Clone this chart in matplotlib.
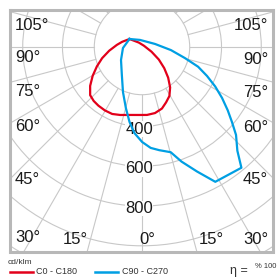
import numpy as np
import matplotlib
matplotlib.use("agg")
import matplotlib.pyplot as plt
from matplotlib.patches import Circle
from matplotlib.lines import Line2D

plt.rcParams['font.family'] = ['Liberation Sans', 'DejaVu Sans']

# C0 - C180 (red), gamma from nadir in degrees, cd/klm
red_gamma = [0, 7, 13, 19, 25, 30, 35, 40, 45, 50, 55, 60, 65, 69, 72]
red_c0 = [382, 385, 392, 394, 386, 368, 350, 318, 275, 228, 180, 128, 80, 50, 0]
red_c180 = [382, 385, 387, 380, 370, 360, 345, 308, 262, 214, 168, 118, 70, 40, 0]

# C90 - C270 (blue), signed gamma (negative = C270 side)
blue_gamma = [-40, -36, -22, -12, -7, -3, 0, 3, 7, 11, 15, 20, 23, 27, 31,
              41, 44, 48, 51, 54, 57.5, 61, 64.5, 68, 71, 75, 79, 85, 90]
blue_cd = [0, 56, 114, 185, 269, 348, 417, 474, 522, 558, 579, 606, 670, 748, 838,
           858, 781, 721, 663, 611, 552, 493, 432, 372, 295, 216, 131, 53, 0]

ring_values = [240, 400, 600, 800, 1000, 1200]
ring_labels = [400, 600, 800]
spoke_angles = np.arange(0, 360, 15)

RED = '#e2001a'
BLUE = '#009fe3'
GRID = '#c8c8c8'

W, H = 278, 280
k = 5.03  # cd/klm per pixel
ox, oy = 129.5, 39.0  # curve origin (px)
gx, gy = (142 - ox) * k, -(47 - oy) * k  # grid centre in data units

fig = plt.figure(figsize=(W / 100, H / 100), dpi=100)
x0, x1, y0, y1 = 9.5, 272.5, 9.5, 251.5
ax = fig.add_axes([x0 / W, 1 - y1 / H, (x1 - x0) / W, (y1 - y0) / H])
ax.set_xlim((x0 - ox) * k, (x1 - ox) * k)
ax.set_ylim(-(y1 - oy) * k, (oy - y0) * k)
ax.set_xticks([])
ax.set_yticks([])
for s in ax.spines.values():
    s.set_color('#b8b8b8')
    s.set_linewidth(2.2)

# grid
for r in ring_values:
    ax.add_patch(Circle((gx, gy), r, fill=False, ec=GRID, lw=0.8, zorder=1))
r0 = ring_values[0]
for a in np.radians(spoke_angles):
    ax.plot([gx + r0 * np.sin(a), gx + 2000 * np.sin(a)],
            [gy - r0 * np.cos(a), gy - 2000 * np.cos(a)], color=GRID, lw=0.8, zorder=1)

for v in ring_labels:
    ax.annotate(str(v), (gx, gy - v), xytext=(-3, -2.5), textcoords='offset pixels',
                ha='center', va='center', fontsize=12, color='#1a1a1a', zorder=3,
                bbox=dict(fc='white', ec='none', pad=0.3))

# curves
g = np.radians(np.concatenate([-np.array(red_gamma[::-1]), np.array(red_gamma[1:])]))
I = np.concatenate([np.array(red_c180[::-1]), np.array(red_c0[1:])])
ax.plot(I * np.sin(g), -I * np.cos(g), color=RED, lw=1.6, zorder=4)

g = np.radians(np.array(blue_gamma))
I = np.array(blue_cd)
ax.plot(I * np.sin(g), -I * np.cos(g), color=BLUE, lw=1.6, zorder=4)

# angle labels
left = [('105°', 25), ('90°', 58), ('75°', 92), ('60°', 127), ('45°', 180), ('30°', 238)]
right = [('105°', 26), ('90°', 59), ('75°', 93), ('60°', 128), ('45°', 179), ('30°', 239)]
for t, y in left:
    fig.text(15 / W, 1 - y / H, t, ha='left', va='center', fontsize=12, color='#1a1a1a')
for t, y in right:
    fig.text(268 / W, 1 - y / H, t, ha='right', va='center', fontsize=12, color='#1a1a1a')
for t, x in [('15°', 75), ('0°', 147), ('15°', 211)]:
    fig.text(x / W, 1 - 239 / H, t, ha='center', va='center', fontsize=12, color='#1a1a1a')

# legend
fig.text(8 / W, 1 - 262 / H, 'cd/klm', ha='left', va='center', fontsize=6, color='#333333')
fig.add_artist(Line2D([10 / W, 33 / W], [1 - 272 / H] * 2, color=RED, lw=1.8))
fig.text(36 / W, 1 - 272 / H, 'C0 - C180', ha='left', va='center', fontsize=6.5, color='#333333')
fig.add_artist(Line2D([95 / W, 118 / W], [1 - 272 / H] * 2, color=BLUE, lw=1.8))
fig.text(122 / W, 1 - 272 / H, 'C90 - C270', ha='left', va='center', fontsize=6.5, color='#333333')
fig.text(230 / W, 1 - 271 / H, 'η =', ha='left', va='center', fontsize=9, color='#333333')
fig.text(255 / W, 1 - 266 / H, '% 100', ha='left', va='center', fontsize=5.5, color='#333333')

fig.savefig('out.png', dpi=100)
